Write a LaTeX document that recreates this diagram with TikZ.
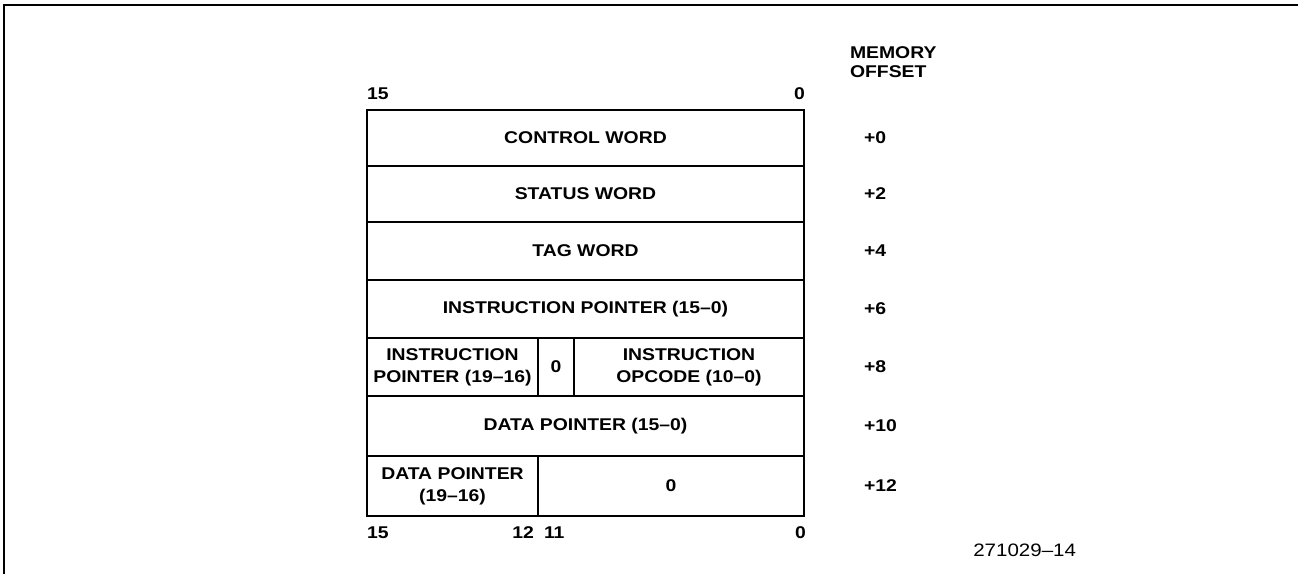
\documentclass[tikz,border=0pt]{standalone}
\usepackage{fontspec}
\setmainfont{Liberation Sans}[FakeStretch=1.14]
\begin{document}
\begin{tikzpicture}[x=1pt,y=-1pt,
  font=\fontsize{17}{22}\selectfont\bfseries,
  cell/.style={draw, line width=2.4pt, inner sep=0pt, outer sep=0pt, anchor=north west, align=center},
  lbl/.style={inner sep=0pt, outer sep=0pt},
  frameline/.style={line width=2pt}]
\useasboundingbox (0,0) rectangle (1298,574);
% frame
\coordinate (fbl) at (4,574);
\coordinate (ftl) at (4,5);
\coordinate (ftr) at (1298,5);
\draw[frameline] (fbl) -- (ftl) -- (ftr);
% rows
\node[cell, minimum width=437pt, minimum height=56pt] (r0) at (367,110) {CONTROL WORD};
\node[cell, minimum width=437pt, minimum height=56pt] (r2) at (367,166) {STATUS WORD};
\node[cell, minimum width=437pt, minimum height=58pt] (r4) at (367,222) {TAG WORD};
\node[cell, minimum width=437pt, minimum height=58pt] (r6) at (367,280) {INSTRUCTION POINTER (15--0)};
\node[cell, minimum width=171pt, minimum height=58pt] (r8a) at (367,338) {INSTRUCTION\\POINTER (19--16)};
\node[cell, minimum width=36pt, minimum height=58pt] (r8b) at (538,338) {0};
\node[cell, minimum width=230pt, minimum height=58pt] (r8c) at (574,338) {INSTRUCTION\\OPCODE (10--0)};
\node[cell, minimum width=437pt, minimum height=60pt] (r10) at (367,396) {DATA POINTER (15--0)};
\node[cell, minimum width=171pt, minimum height=60pt] (r12a) at (367,456) {DATA POINTER\\(19--16)};
\node[cell, minimum width=266pt, minimum height=60pt] (r12b) at (538,456) {0};
% bit numbers
\node[lbl, anchor=west] (t15) at (367,94) {15};
\node[lbl, anchor=east] (t0) at (805,94) {0};
\node[lbl, anchor=west] (b15) at (367,533) {15};
\node[lbl, anchor=east] (b12) at (534,533) {12};
\node[lbl, anchor=west] (b11) at (544,533) {11};
\node[lbl, anchor=east] (b0) at (806,533) {0};
% memory offset
\node[lbl, anchor=west] (mem) at (850,53) {MEMORY};
\node[lbl, anchor=west] (off) at (850,72) {OFFSET};
\node[lbl, anchor=west] (o0) at (864,138) {+0};
\node[lbl, anchor=west] (o2) at (864,194) {+2};
\node[lbl, anchor=west] (o4) at (864,251) {+4};
\node[lbl, anchor=west] (o6) at (864,309) {+6};
\node[lbl, anchor=west] (o8) at (864,367) {+8};
\node[lbl, anchor=west] (o10) at (864,426) {+10};
\node[lbl, anchor=west] (o12) at (864,486) {+12};
% figure number
\node[lbl, anchor=east, font=\fontsize{18}{22}\selectfont\mdseries] (fig) at (1076,550) {271029--14};
\end{tikzpicture}
\end{document}
